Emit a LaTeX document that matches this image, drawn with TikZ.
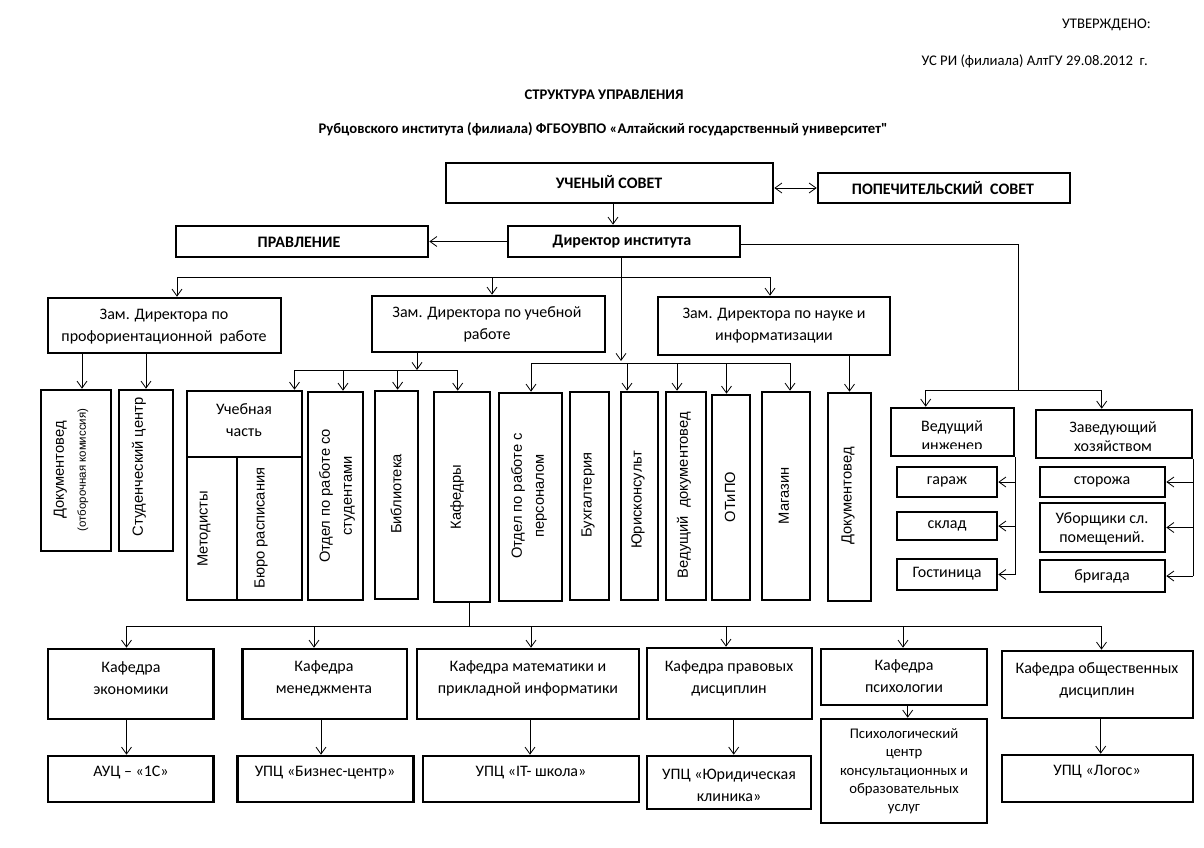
\documentclass[tikz,border=0pt]{standalone}
\usepackage{fontspec}
\setmainfont{Carlito}
\newfontfamily\plainq{Carlito}[Ligatures=TeXOff]
\newfontfamily\arialf{Liberation Sans}
\usetikzlibrary{arrows.meta}
\newcommand\fs{\fontsize{16}{22}\selectfont}
\newcommand\fsr{\fontsize{16}{19}\selectfont}
\newcommand\fsp{\fontsize{14.7}{18.3}\selectfont}
\newcommand\fst{\fontsize{14.7}{16}\selectfont}
\newcommand\fsv{\fontsize{14.7}{22}\selectfont}
\newcommand\fsvs{\fontsize{11.5}{14}\selectfont}
\newcommand\bx[5]{\node[box, minimum width={(#4)-(#2)}, minimum height={(#5)-(#3)}] (#1) at ({((#2)+(#4))/2},{((#3)+(#5))/2}) {};}
\begin{document}
\begin{tikzpicture}[x=1pt,y=-1pt,
  box/.style={draw, line width=2.6pt, inner sep=0pt},
  txt/.style={inner sep=0pt, align=center, font=\fs},
  rtxt/.style={inner sep=0pt, align=center, font=\fsr},
  btxt/.style={inner sep=0pt, align=center, font=\fs\bfseries},
  ttxt/.style={inner sep=0pt, font=\fst},
  vtxt/.style={inner sep=0pt, align=center, rotate=90, font=\arialf\fsv},
  ln/.style={line width=0.8pt},
  arr/.style={ln, -{Straight Barb[length=7pt,width=10pt]}},
  darr/.style={ln, {Straight Barb[length=7pt,width=10pt]}-{Straight Barb[length=7pt,width=10pt]}}
]
\useasboundingbox (0,0) rectangle (1204,847);

% header texts
\node[ttxt, anchor=base east] (h1) at (1151,28.3) {УТВЕРЖДЕНО:};
\node[ttxt, anchor=base east] (h2) at (1148,65.7) {УС РИ (филиала) АлтГУ 29.08.2012~ г.};
\node[ttxt, font=\fst\bfseries, anchor=base] (h3) at (604,99.3) {СТРУКТУРА УПРАВЛЕНИЯ};
\node[ttxt, font=\fst\bfseries, anchor=base] (h4) at (603,133.3) {Рубцовского института (филиала) ФГБОУВПО «Алтайский государственный университет{\plainq "}};

% boxes
\bx{us}{446}{163}{773}{203}
\bx{ps}{818}{173}{1070}{203}
\bx{pr}{176}{226}{428}{257}
\bx{dir}{508}{226}{740}{257}
\bx{zp}{48}{298}{281}{353}
\bx{zu}{372}{296}{605}{352}
\bx{zn}{658}{297}{890}{355}
\bx{doca}{41}{390}{111}{551}
\bx{sc}{119}{390}{173}{551}
\bx{uch}{187}{391}{302}{457}
\bx{met}{187}{457}{237}{600}
\bx{bur}{237}{457}{302}{600}
\bx{ors}{308}{392}{363}{600}
\bx{bib}{375}{391}{418}{599}
\bx{kaf}{434}{392}{490}{602}
\bx{orp}{499}{393}{562}{601}
\bx{buh}{570}{392}{609}{600}
\bx{yur}{621}{392}{658}{600}
\bx{vd}{666}{392}{706}{600}
\bx{otipo}{712}{395}{750}{600}
\bx{mag}{762}{392}{810}{600}
\bx{docb}{828}{393}{871}{601}
\begin{scope}
  \clip (891,408) rectangle (1014,448.5);
  \node[rtxt, anchor=base] (vi-t) at (952,450) {Ведущий\\инженер};
\end{scope}
\bx{vi}{891}{408}{1014}{456}
\bx{zh}{1036}{410}{1192}{458}
\bx{gar}{897}{467}{997}{497}
\bx{skl}{897}{512}{997}{540}
\bx{gos}{897}{559}{997}{590}
\bx{stor}{1040}{467}{1165}{497}
\bx{ubor}{1040}{503}{1165}{552}
\bx{brig}{1040}{560}{1165}{592}
\bx{kek}{48}{649}{213.5}{719}
\bx{kmen}{242.4}{649}{407}{719}
\bx{kmat}{417}{649}{639}{719}
\bx{kpr}{647}{648}{812}{719}
\bx{kps}{821}{649}{987}{705}
\bx{kob}{1002}{651}{1193}{718}
\bx{auc}{48}{756}{213.5}{802}
\bx{biz}{237.5}{756}{413.5}{802}
\bx{it}{423}{756}{639}{802}
\bx{yurk}{647}{756}{811}{809}
\bx{psc}{821}{719}{987}{823}
\bx{log}{1002}{755}{1193}{802}

% box texts
\node[btxt] (us-t) at (609,182) {УЧЕНЫЙ СОВЕТ};
\node[btxt] (ps-t) at (943,188) {ПОПЕЧИТЕЛЬСКИЙ~ СОВЕТ};
\node[btxt] (pr-t) at (299,242) {ПРАВЛЕНИЕ};
\node[btxt] (dir-t) at (622,242) {Директор института};
\node[txt] (zp-t) at (164,327) {Зам. Директора по\\профориентационной~ работе};
\node[txt] (zu-t) at (487,324) {Зам. Директора по учебной\\работе};
\node[txt] (zn-t) at (774,326) {Зам. Директора по науке и\\информатизации};
\node[txt] (uch-t) at (244,420) {Учебная\\часть};
\node[vtxt] (doca-t) at (71,470) {Документовед\\{\fsvs (отборочная комиссия)}};
\node[vtxt] (sc-t) at (139,467) {Студенческий центр};
\node[vtxt] (met-t) at (204,529) {Методисты};
\node[vtxt] (bur-t) at (261,528) {Бюро расписания};
\node[vtxt] (ors-t) at (337,496) {Отдел по работе со\\студентами};
\node[vtxt] (bib-t) at (396,494) {Библиотека};
\node[vtxt] (kaf-t) at (457,497) {Кафедры};
\node[vtxt] (orp-t) at (529,496) {Отдел по работе с\\персоналом};
\node[vtxt] (buh-t) at (588,495) {Бухгалтерия};
\node[vtxt] (yur-t) at (638,500) {Юрисконсульт};
\node[vtxt] (vd-t) at (684,495) {Ведущий~ документовед};
\node[vtxt] (otipo-t) at (730,497) {ОТиПО};
\node[vtxt] (mag-t) at (784,496) {Магазин};
\node[vtxt] (docb-t) at (848,496) {Документовед};
\node[rtxt] (zh-t) at (1113,437) {Заведующий\\хозяйством};
\node[rtxt] (gar-t) at (947,482) {гараж};
\node[rtxt] (skl-t) at (947,526) {склад};
\node[rtxt] (gos-t) at (947,574) {Гостиница};
\node[rtxt] (stor-t) at (1102,482) {сторожа};
\node[rtxt] (ubor-t) at (1102,528.5) {Уборщики сл.\\помещений.};
\node[rtxt] (brig-t) at (1102,576) {бригада};
\node[txt] (kek-t) at (131,678) {Кафедра\\экономики};
\node[txt] (kmen-t) at (324,678) {Кафедра\\менеджмента};
\node[txt] (kmat-t) at (528,678) {Кафедра математики и\\прикладной информатики};
\node[txt] (kpr-t) at (729,678) {Кафедра правовых\\дисциплин};
\node[txt] (kps-t) at (904,676.5) {Кафедра\\психологии};
\node[txt] (kob-t) at (1097,680) {Кафедра общественных\\дисциплин};
\node[txt] (auc-t) at (131,773) {АУЦ – «1С»};
\node[txt] (biz-t) at (325,773) {УПЦ «Бизнес-центр»};
\node[txt] (it-t) at (531,773) {УПЦ «IT- школа»};
\node[txt] (yurk-t) at (729,785) {УПЦ «Юридическая\\клиника»};
\node[txt, font=\fsp] (psc-t) at (904,771.5) {Психологический\\центр\\консультационных и\\образовательных\\услуг};
\node[txt] (log-t) at (1097,772) {УПЦ «Логос»};

% connectors: top
\draw[darr] (us.east |- ps.west) -- (ps.west);
\draw[arr] ([xshift=3.5]us.south) -- ([xshift=3.5]us.south |- dir.north);
\draw[arr] (dir.west) -- (pr.east);
% right branch
\coordinate (rj) at (1018,390);
\draw[ln] ([yshift=-2.5]dir.east) -| (rj);
\draw[arr] (rj) -| ([xshift=36]vi.north west);
\draw[arr] (rj) -| ([xshift=67]zh.north west);
% deputies
\coordinate (ta) at (177,277);
\coordinate (tb) at (492,277);
\coordinate (tc) at (770,277);
\draw[ln] (ta) -- (tc);
\draw[arr] (ta) -- (ta |- zp.north);
\draw[arr] (tb) -- (tb |- zu.north);
\draw[arr] (tc) -- (tc |- zn.north);
% director down
\coordinate (dj) at (621,361);
\draw[arr] ([xshift=-3]dir.south) -- (dj);
\foreach \n/\x/\t in {ha/531/orp, hb/627/yur, hc/677/vd, hd/726.5/otipo, he/790/mag}{
  \coordinate (\n) at (\x,363);
  \draw[arr] (\n) -- (\n |- \t.north);
}
\draw[ln] (ha) -- (he);
% zp children
\coordinate (pa) at ([xshift=6]doca.north);
\draw[arr] (pa |- zp.south) -- (pa);
\draw[arr] (sc.north |- zp.south) -- (sc.north);
% zu children
\coordinate (uj) at (417,370);
\draw[arr] (uj |- zu.south) -- (uj);
\foreach \n/\x/\t in {ua/294.5/uch, ub/343/ors, uc/397.6/bib, ud/457.7/kaf}{
  \coordinate (\n) at (\x,370);
  \draw[arr] (\n) -- (\n |- \t.north);
}
\draw[ln] (ua) -- (ud);
% zn child
\draw[arr] (docb.north |- zn.south) -- (docb.north);
% brackets
\draw[ln] (vi.south east) -- (vi.south east |- gos.east);
\foreach \t in {gar,skl,gos} \draw[arr] (vi.south east |- \t.east) -- (\t.east);
\draw[ln] (zh.south east) -- (zh.south east |- brig.east);
\foreach \t in {stor,ubor,brig} \draw[arr] (zh.south east |- \t.east) -- (\t.east);
% kafedry
\coordinate (kj) at (469,626);
\draw[ln] (kaf.south -| kj) -- (kj);
\foreach \n/\x/\t in {ka/126.5/kek, kb/314/kmen, kc/531/kmat, kd/726/kpr, ke/903/kps, kf/1101.5/kob}{
  \coordinate (\n) at (\x,626);
  \draw[arr] (\n) -- (\n |- \t.north);
}
\draw[ln] (ka) -- (kf);
\foreach \n/\x/\s/\t in {ca/126.5/kek/auc, cb/321/kmen/biz, cc/530/kmat/it, cd/733.7/kpr/yurk, ce/907.7/kps/psc, cf/1100.7/kob/log}{
  \coordinate (\n) at (\x,0);
  \draw[arr] (\n |- \s.south) -- (\n |- \t.north);
}
\end{tikzpicture}
\end{document}
